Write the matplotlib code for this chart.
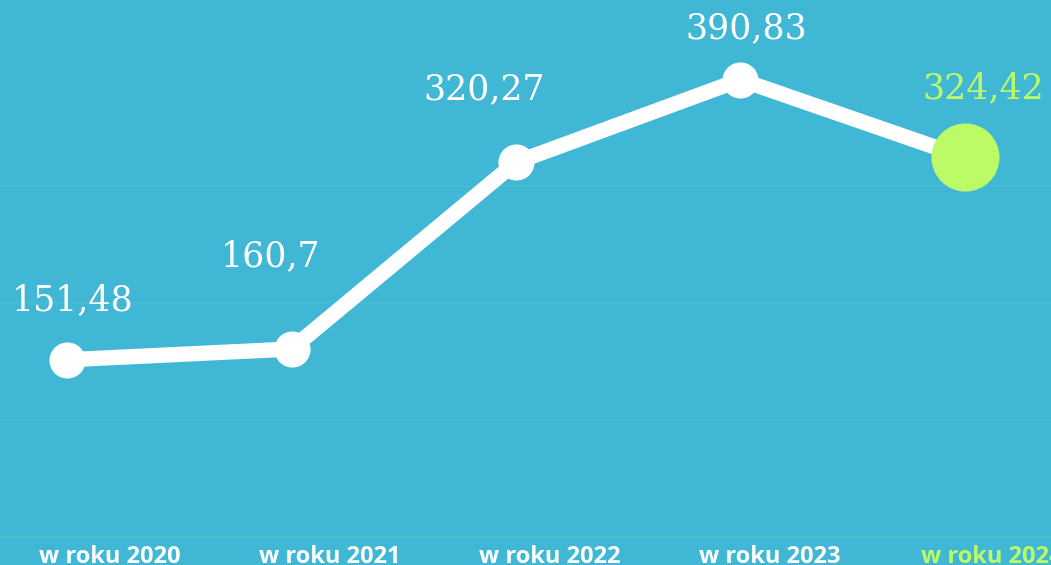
import matplotlib.pyplot as plt
from matplotlib.ticker import MultipleLocator

# --- Data ---
years = ["w roku 2020", "w roku 2021", "w roku 2022", "w roku 2023", "w roku 2024"]
values = [151.48, 160.7, 320.27, 390.83, 324.42]
value_labels = ["151,48", "160,7", "320,27", "390,83", "324,42"]

# --- Style ---
bg = "#41b7d6"
lime = "#bdfb66"
grid_col = "#46bcd2"
label_offsets = [(4, 43), (-15, 67), (-23, 53), (4, 37), (13, 50)]  # in points
tick_shift = [0.19, 0.17, 0.15, 0.13, 0.12]

fig = plt.figure(figsize=(10.51, 5.65), dpi=100, facecolor=bg)
ax = fig.add_axes([0, 28 / 565, 1, 1 - 28 / 565])
ax.set_facecolor(bg)

x = list(range(len(values)))
ax.plot(x, values, color="white", lw=11, solid_capstyle="round", zorder=3)
ax.plot(x[:-1], values[:-1], "o", color="white", ms=25, zorder=4)
ax.plot(x[-1:], values[-1:], "o", color=lime, ms=48, zorder=5)

for i, (v, lab) in enumerate(zip(values, value_labels)):
    col = lime if i == len(values) - 1 else "white"
    ax.annotate(lab, (x[i], v), xytext=label_offsets[i], textcoords="offset points",
                ha="center", va="center", fontsize=25, color=col,
                family="DejaVu Serif", zorder=6)

ax.set_xlim(-67 / 224.5, (1051 - 67) / 224.5)
ax.set_ylim(0, 459)
ax.yaxis.set_major_locator(MultipleLocator(100))
ax.grid(axis="y", color=grid_col, lw=1.2, zorder=0)
ax.set_yticklabels([])
ax.tick_params(left=False, bottom=False, pad=2)

ax.set_xticks([i + s for i, s in zip(x, tick_shift)])
ax.set_xticklabels(years, fontsize=17, fontweight="bold", family="Open Sans")
for i, t in enumerate(ax.get_xticklabels()):
    t.set_color(lime if i == len(years) - 1 else "white")

for s in ["left", "right", "top"]:
    ax.spines[s].set_visible(False)
ax.spines["bottom"].set_color("#4cc0cc")
ax.spines["bottom"].set_linewidth(1.5)

fig.savefig("out.png", dpi=100, facecolor=bg)
